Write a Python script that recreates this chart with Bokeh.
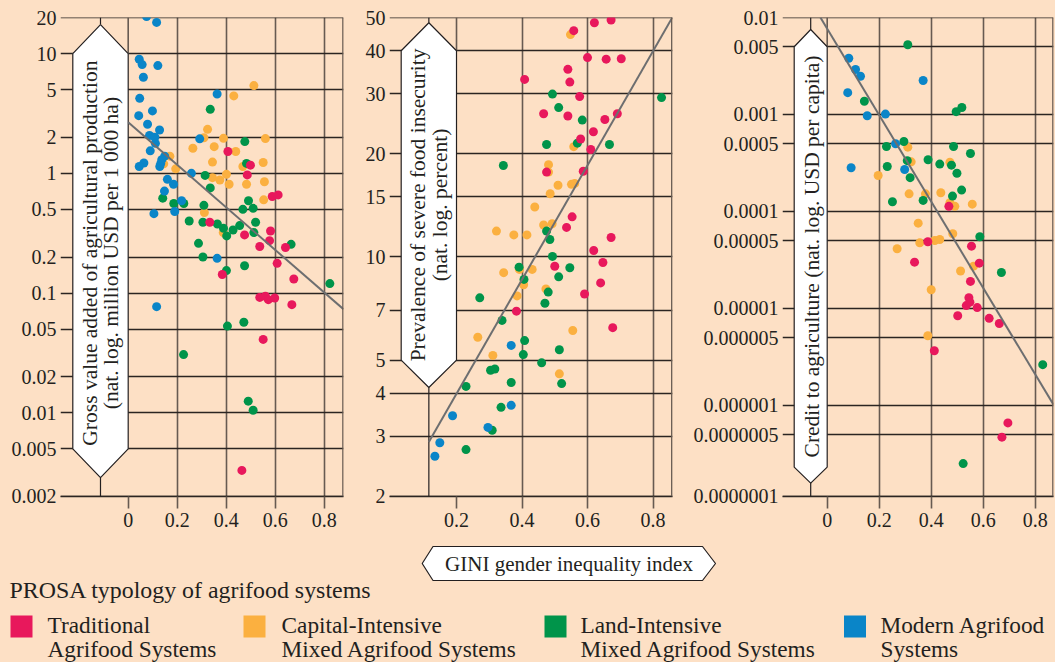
import numpy as np
from bokeh.plotting import figure
from bokeh.layouts import row, column
from bokeh.models import Range1d, FixedTicker, CustomJSTickFormatter, Span
from bokeh.core.properties import value
from bokeh.embed import file_html
from bokeh.resources import INLINE

# ---------------- data ----------------
legend_title = "PROSA typology of agrifood systems"
legend_line1 = ["Traditional", "Capital-Intensive", "Land-Intensive", "Modern Agrifood"]
legend_line2 = ["Agrifood Systems", "Mixed Agrifood Systems", "Mixed Agrifood Systems", "Systems"]
category_colors = ["#e8185c", "#fbb040", "#00944a", "#0a85c8"]
x_axis_title = "GINI gender inequality index"

gva_label = ["Gross value added of agricultural production", "(nat. log. million USD per 1 000 ha)"]
fies_label = ["Prevalence of severe food insecurity", "(nat. log. percent)"]
credit_label = ["Credit to agriculture (nat. log. USD per capita)"]

gva_yticks = [20, 10, 5, 2, 1, 0.5, 0.2, 0.1, 0.05, 0.02, 0.01, 0.005, 0.002]
fies_yticks = [50, 40, 30, 20, 15, 10, 7, 5, 4, 3, 2]
credit_yticks = [0.01, 0.005, 0.001, 0.0005, 0.0001, 0.00005, 0.00001, 0.000005, 0.000001, 0.0000005, 1.155e-7]
gva_xticks = [0, 0.2, 0.4, 0.6, 0.8]
fies_xticks = [0.2, 0.4, 0.6, 0.8]
credit_xticks = [0, 0.2, 0.4, 0.6, 0.8]

# Panel 1: gross value added (million USD per 1000 ha)
gva_trad_x = [0.407, 0.499, 0.486, 0.588, 0.612, 0.333, 0.475, 0.581, 0.577, 0.537, 0.642, 0.608, 0.384, 0.676, 0.537, 0.56, 0.572, 0.598, 0.668, 0.551, 0.464]
gva_trad_y = [1.52, 1.17, 0.97, 0.64, 0.66, 0.39, 0.306, 0.33, 0.274, 0.245, 0.24, 0.177, 0.143, 0.131, 0.092, 0.094, 0.088, 0.091, 0.08, 0.041, 0.0033]
gva_cap_x = [0.513, 0.431, 0.324, 0.309, 0.389, 0.56, 0.264, 0.351, 0.439, 0.17, 0.344, 0.551, 0.468, 0.145, 0.194, 0.401, 0.344, 0.374, 0.412, 0.483, 0.556, 0.553, 0.311, 0.388]
gva_cap_y = [5.4, 4.43, 2.33, 1.98, 1.96, 1.95, 1.62, 1.67, 1.52, 1.39, 1.24, 1.23, 1.14, 1.2, 1.09, 0.98, 0.92, 0.88, 0.81, 0.81, 0.85, 0.6, 0.47, 0.32]
gva_land_x = [0.335, 0.476, 0.483, 0.314, 0.335, 0.141, 0.186, 0.227, 0.309, 0.491, 0.468, 0.51, 0.249, 0.305, 0.364, 0.389, 0.402, 0.428, 0.455, 0.52, 0.513, 0.287, 0.665, 0.305, 0.401, 0.475, 0.823, 0.405, 0.472, 0.226, 0.49, 0.51]
gva_land_y = [3.42, 1.84, 1.21, 0.96, 0.755, 0.62, 0.56, 0.56, 0.54, 0.59, 0.50, 0.51, 0.40, 0.39, 0.377, 0.347, 0.30, 0.336, 0.366, 0.39, 0.32, 0.26, 0.255, 0.2, 0.154, 0.169, 0.12, 0.053, 0.057, 0.0306, 0.0125, 0.0105]
gva_mod_x = [0.075, 0.116, 0.045, 0.057, 0.121, 0.062, 0.363, 0.047, 0.099, 0.043, 0.079, 0.128, 0.087, 0.109, 0.292, 0.111, 0.09, 0.149, 0.137, 0.133, 0.064, 0.045, 0.129, 0.258, 0.16, 0.185, 0.148, 0.218, 0.19, 0.105, 0.363, 0.116]
gva_mod_y = [20.4, 18.2, 8.96, 8.09, 7.94, 6.34, 4.6, 4.23, 3.32, 3.03, 2.57, 2.3, 2.07, 2.0, 1.94, 1.78, 1.54, 1.39, 1.30, 1.21, 1.22, 1.14, 1.14, 1.0, 0.89, 0.81, 0.71, 0.59, 0.48, 0.46, 0.195, 0.077]

# Panel 2: prevalence of severe food insecurity (percent)
fies_trad_x = [0.558, 0.621, 0.672, 0.6, 0.657, 0.703, 0.408, 0.54, 0.546, 0.576, 0.466, 0.54, 0.653, 0.691, 0.618, 0.579, 0.61, 0.475, 0.587, 0.553, 0.536, 0.672, 0.619, 0.5, 0.647, 0.64, 0.591, 0.383, 0.677]
fies_trad_y = [45.8, 48.3, 49.2, 38.2, 37.8, 37.9, 33.0, 35.3, 32.4, 29.4, 26.2, 25.8, 25.2, 26.2, 23.2, 22.1, 20.6, 17.7, 17.8, 13.1, 12.2, 11.4, 10.45, 9.4, 9.64, 8.4, 7.8, 6.95, 6.22]
fies_cap_x = [0.548, 0.558, 0.481, 0.481, 0.551, 0.561, 0.51, 0.486, 0.439, 0.466, 0.492, 0.322, 0.375, 0.415, 0.344, 0.392, 0.431, 0.405, 0.473, 0.385, 0.265, 0.555, 0.311, 0.514]
fies_cap_y = [44.6, 21.0, 18.6, 17.7, 16.3, 16.4, 16.2, 15.3, 14.0, 12.4, 12.5, 11.9, 11.6, 11.6, 9.0, 9.2, 9.2, 8.3, 8.07, 7.7, 5.83, 6.1, 5.16, 4.56]
fies_land_x = [0.826, 0.493, 0.512, 0.584, 0.569, 0.475, 0.667, 0.343, 0.475, 0.485, 0.493, 0.391, 0.546, 0.512, 0.406, 0.48, 0.271, 0.47, 0.339, 0.408, 0.514, 0.404, 0.46, 0.304, 0.317, 0.367, 0.521, 0.229, 0.336, 0.309, 0.229]
fies_land_y = [29.2, 29.9, 27.3, 25.1, 21.5, 21.3, 21.3, 18.5, 11.9, 11.25, 10.04, 9.34, 9.3, 8.75, 8.6, 7.9, 7.6, 7.33, 6.53, 5.7, 5.36, 5.19, 4.91, 4.67, 4.71, 4.3, 4.27, 4.19, 3.64, 3.12, 2.74]
fies_mod_x = [0.367, 0.367, 0.296, 0.188, 0.149, 0.134]
fies_mod_y = [5.52, 3.69, 3.18, 3.44, 2.87, 2.62]

# Panel 3: credit to agriculture (USD per capita)
credit_trad_x = [0.468, 0.387, 0.555, 0.336, 0.585, 0.551, 0.545, 0.535, 0.549, 0.577, 0.502, 0.623, 0.662, 0.412, 0.695, 0.672]
credit_trad_y = [1.13e-4, 4.87e-5, 4.39e-5, 3.0e-5, 2.93e-5, 1.9e-5, 1.29e-5, 1.07e-5, 1.16e-5, 1.02e-5, 8.4e-6, 7.9e-6, 7.0e-6, 3.66e-6, 6.6e-7, 4.7e-7]
credit_cap_x = [0.31, 0.323, 0.472, 0.196, 0.315, 0.378, 0.437, 0.472, 0.491, 0.558, 0.35, 0.483, 0.356, 0.414, 0.433, 0.269, 0.563, 0.513, 0.4, 0.387]
credit_cap_y = [4.6e-4, 3.25e-4, 3.22e-4, 2.35e-4, 1.52e-4, 1.52e-4, 1.56e-4, 1.23e-4, 1.13e-4, 1.19e-4, 7.57e-5, 5.89e-5, 4.75e-5, 5.02e-5, 5.14e-5, 4.12e-5, 2.73e-5, 2.43e-5, 1.56e-5, 5.23e-6]
credit_land_x = [0.31, 0.143, 0.496, 0.518, 0.228, 0.295, 0.486, 0.308, 0.388, 0.433, 0.478, 0.551, 0.231, 0.499, 0.319, 0.517, 0.482, 0.251, 0.369, 0.587, 0.67, 0.829, 0.523]
credit_land_y = [5.24e-3, 1.37e-3, 1.07e-3, 1.18e-3, 4.68e-4, 5.27e-4, 4.68e-4, 3.34e-4, 3.41e-4, 3.08e-4, 3.0e-4, 3.96e-4, 2.91e-4, 2.48e-4, 2.23e-4, 1.66e-4, 1.44e-4, 1.26e-4, 1.3e-4, 5.48e-5, 2.35e-5, 2.63e-6, 2.51e-7]
credit_mod_x = [0.083, 0.109, 0.128, 0.079, 0.154, 0.224, 0.369, 0.263, 0.092, 0.298]
credit_mod_y = [3.8e-3, 2.91e-3, 2.48e-3, 1.68e-3, 9.7e-4, 1.01e-3, 2.24e-3, 4.99e-4, 2.82e-4, 2.71e-4]

# fitted trend lines: log10(y) = intercept + slope * x, drawn from x_from to the right edge
gva_fit = [0.4265, -1.777, 0.0]
fies_fit = [0.2673, 1.667, 0.1155]
credit_fit = [-2.1158, -4.454, -0.026]

# ---------------- styling ----------------
BG = "#fde0c5"
FONT = "Liberation Serif"
TXT = "#231f20"
HGRID = "#2b2522"
VGRID = "#675a51"
TREND = "#6d6e70"
BASE_FIX = 7.0  # px correction of rendered alphabetic baseline

YFMT = r"""
if (tick < 1.5e-7) { return "0.0000001"; }
let s = tick.toFixed(7);
if (s.indexOf('.') >= 0) { s = s.replace(/0+$/, '').replace(/\.$/, ''); }
return s;
"""
XFMT = "return tick == 0 ? '0' : tick.toFixed(1);"


def panel(width, bl, br, xr, yr, yticks, xticks, xgrid, groups, fit, box, labels, label_x, label_y):
    p = figure(width=width, height=536, x_range=Range1d(*xr),
               y_range=Range1d(yr[0] * 0.9995, yr[1] * 1.0005), y_axis_type="log",
               output_backend="svg", toolbar_location=None,
               min_border_left=bl, min_border_right=br, min_border_top=17, min_border_bottom=40,
               background_fill_color=BG, border_fill_color=BG, outline_line_color=None)
    yt = FixedTicker(ticks=yticks)
    p.yaxis.ticker = yt
    p.ygrid.ticker = yt
    p.yaxis.formatter = CustomJSTickFormatter(code=YFMT)
    p.yaxis.major_tick_out = 0
    p.yaxis.major_tick_in = 0
    p.yaxis.minor_tick_out = 0
    p.yaxis.minor_tick_in = 0
    p.yaxis.axis_line_color = None
    p.yaxis.major_label_standoff = 4
    p.yaxis.major_label_text_font = FONT
    p.yaxis.major_label_text_font_size = "20px"
    p.yaxis.major_label_text_color = TXT
    p.ygrid.grid_line_color = HGRID
    p.ygrid.grid_line_width = 1.3
    p.ygrid.minor_grid_line_color = None

    xt = FixedTicker(ticks=xticks)
    p.xaxis.ticker = xt
    p.xaxis.formatter = CustomJSTickFormatter(code=XFMT)
    p.xaxis.major_tick_out = 12
    p.xaxis.major_tick_in = 0
    p.xaxis.minor_tick_out = 0
    p.xaxis.minor_tick_in = 0
    p.xaxis.major_tick_line_color = VGRID
    p.xaxis.major_tick_line_width = 1.6
    p.xaxis.axis_line_color = HGRID
    p.xaxis.axis_line_width = 1.3
    p.xaxis.major_label_standoff = 4
    p.xaxis.major_label_text_font = FONT
    p.xaxis.major_label_text_font_size = "20px"
    p.xaxis.major_label_text_color = TXT
    p.xgrid.ticker = FixedTicker(ticks=xgrid)
    p.xgrid.grid_line_color = VGRID
    p.xgrid.grid_line_width = 1.6
    p.add_layout(Span(location=xr[1] - 0.002, dimension="height", line_color=VGRID, line_width=1.6))

    # label box (hexagon pointing up/down) with stems
    xl, xrt, ytop_c, ybot_c, ytop_p, ybot_p = box
    xc = (xl + xrt) / 2
    p.segment(x0=[xrt], y0=[ytop_c], x1=[xrt], y1=[yr[1]], line_color=VGRID, line_width=1.6)
    p.segment(x0=[xc, xc], y0=[ytop_p, ybot_p], x1=[xc, xc], y1=[yr[1], yr[0]],
              line_color=TXT, line_width=1.2)
    p.patch([xl, xc, xrt, xrt, xc, xl], [ytop_c, ytop_p, ytop_c, ybot_c, ybot_p, ybot_c],
            fill_color="white", line_color=TXT, line_width=1.2)
    px_per_unit = (width - bl - br) / (xr[1] - xr[0])
    lx = [v - BASE_FIX / px_per_unit for v in label_x]
    p.text(x=lx, y=[label_y] * len(labels), text=labels, angle=np.pi / 2,
           text_font=value(FONT), text_font_size="21.5px", text_color=TXT,
           text_align="center", text_baseline="alphabetic")

    for (gx, gy), col in zip(groups, [category_colors[1], category_colors[2], category_colors[3], category_colors[0]]):
        p.scatter(gx, gy, size=9, fill_color=col, line_color=None)

    a, b, x0 = fit
    xs = np.array([x0, xr[1]])
    p.line(xs, 10 ** (a + b * xs), line_color=TREND, line_width=2)
    return p


p1 = panel(345, 60, 2, (-0.2763, 0.8788), (0.002, 20), gva_yticks, gva_xticks, [0.2, 0.4, 0.6, 0.8],
           [(gva_cap_x, gva_cap_y), (gva_land_x, gva_land_y), (gva_mod_x, gva_mod_y), (gva_trad_x, gva_trad_y)],
           gva_fit, (-0.2261, 0.0, 10, 0.005, 17.47, 0.00287), gva_label, [-0.1265, -0.0404], 0.2155)
p2 = panel(329, 44, 2, (-0.0046, 0.8595), (2, 50), fies_yticks, fies_xticks, [0.4, 0.6, 0.8],
           [(fies_cap_x, fies_cap_y), (fies_land_x, fies_land_y), (fies_mod_x, fies_mod_y), (fies_trad_x, fies_trad_y)],
           fies_fit, (0.0311, 0.2, 40, 5, 48.3, 4.16), fies_label, [0.1053, 0.1695], 14.19)
p3 = panel(381, 108, 2, (-0.1719, 0.8704), (1.15e-7, 0.01), credit_yticks, credit_xticks, [0.2, 0.4, 0.6, 0.8],
           [(credit_cap_x, credit_cap_y), (credit_land_x, credit_land_y), (credit_mod_x, credit_mod_y), (credit_trad_x, credit_trad_y)],
           credit_fit, (-0.1269, 0.0, 0.005, 2.31e-7, 0.00752, 1.58e-7), credit_label, [-0.0323], 3.43e-5)

# ---------------- bottom strip: x title + legend ----------------
q = figure(width=1055, height=126, x_range=Range1d(0, 1055), y_range=Range1d(662, 536),
           output_backend="svg", toolbar_location=None, x_axis_location=None, y_axis_location=None,
           min_border=0, background_fill_color=BG, border_fill_color=BG, outline_line_color=None)
q.grid.visible = False
q.patch([421.7, 432.5, 702, 715, 702, 432.5], [563, 546, 546, 563, 580, 580],
        fill_color="white", line_color=TXT, line_width=1.2)
q.text(x=[568.5], y=[570 - BASE_FIX], text=[x_axis_title], text_font=value(FONT), text_font_size="21px",
       text_color=TXT, text_align="center", text_baseline="alphabetic")
q.text(x=[9], y=[596 - BASE_FIX], text=[legend_title], text_font=value(FONT), text_font_size="23.9px",
       text_color=TXT, text_align="left", text_baseline="alphabetic")
sq_x = [21, 254, 555, 854.5]
tx_x = [47, 281, 580, 880]
q.rect(x=sq_x, y=[626] * 4, width=22, height=22, fill_color=category_colors, line_color=None)
q.text(x=tx_x, y=[631.7 - BASE_FIX] * 4, text=legend_line1, text_font=value(FONT), text_font_size="23.3px",
       text_color=TXT, text_align="left", text_baseline="alphabetic")
q.text(x=tx_x, y=[655.7 - BASE_FIX] * 4, text=legend_line2, text_font=value(FONT), text_font_size="23.3px",
       text_color=TXT, text_align="left", text_baseline="alphabetic")

layout = column(row(p1, p2, p3), q)

TEMPLATE = """{% block postamble %}<style>html, body { margin: 0 !important; padding: 0 !important; background: #fde0c5; overflow: hidden; }</style>{% endblock %}"""
open("out.html", "w").write(file_html(layout, INLINE, template=TEMPLATE))
